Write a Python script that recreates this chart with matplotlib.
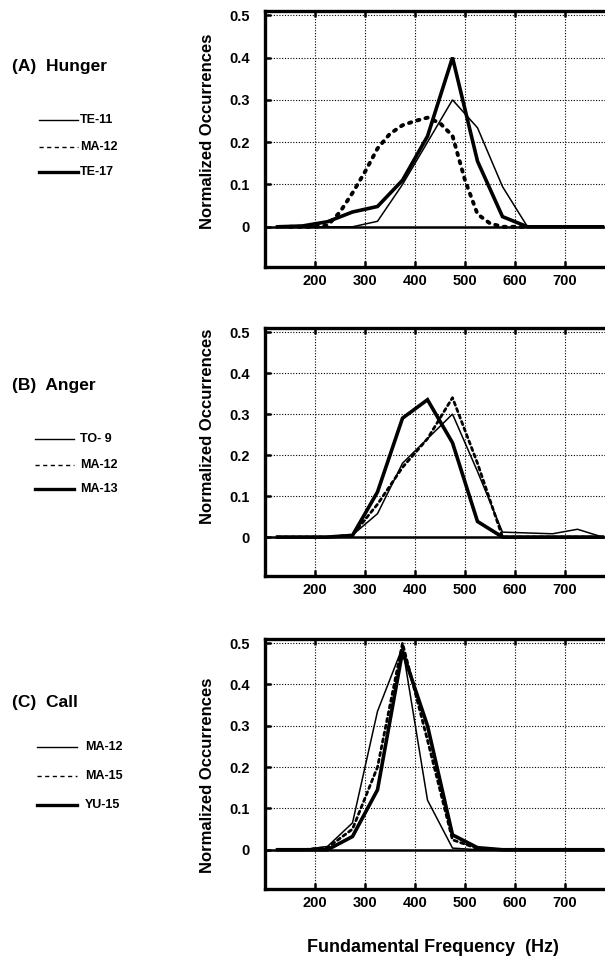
import numpy as np
import matplotlib
matplotlib.use("Agg")
import matplotlib.pyplot as plt
from matplotlib.lines import Line2D

plt.rcParams['font.family'] = ['Liberation Sans', 'DejaVu Sans']
plt.rcParams['font.weight'] = 'bold'

W, H = 605, 959

# bin centres (Hz)
freq = [125, 175, 225, 275, 325, 375, 425, 475, 525, 575, 625, 675, 725, 775]
freq_fine = [150, 175, 200, 225, 250, 275, 300, 325, 350, 375, 400, 425, 450,
             475, 500, 525, 550, 575, 600, 625]

# (A) Hunger
hunger_te11 = [0, 0, 0, 0, 0.013, 0.10, 0.20, 0.30, 0.234, 0.095, 0, 0, 0, 0]
hunger_ma12 = [0, 0, 0, 0.003, 0.035, 0.08, 0.13, 0.185, 0.22, 0.24, 0.25, 0.258,
               0.245, 0.215, 0.11, 0.03, 0.008, 0, 0, 0]
hunger_te17 = [0, 0.002, 0.012, 0.035, 0.048, 0.11, 0.214, 0.40, 0.155, 0.024, 0, 0, 0, 0]

# (B) Anger
anger_to9 = [0, 0, 0, 0.005, 0.057, 0.18, 0.24, 0.30, 0.16, 0.012, 0.01, 0.008, 0.019, 0]
anger_ma12 = [0, 0, 0, 0.005, 0.08, 0.17, 0.24, 0.34, 0.18, 0, 0, 0, 0, 0]
anger_ma13 = [0, 0, 0, 0.004, 0.11, 0.29, 0.335, 0.23, 0.038, 0, 0, 0, 0, 0]

# (C) Call
call_ma12 = [0, 0, 0.008, 0.065, 0.335, 0.49, 0.12, 0.004, 0, 0, 0, 0, 0, 0]
call_ma15 = [0, 0, 0.005, 0.05, 0.2, 0.50, 0.265, 0.024, 0.003, 0, 0, 0, 0, 0]
call_yu15 = [0, 0, 0, 0.032, 0.145, 0.48, 0.30, 0.036, 0.005, 0, 0, 0, 0, 0]

xticks = [200, 300, 400, 500, 600, 700]
yticks = [0, 0.1, 0.2, 0.3, 0.4, 0.5]
ytick_labels = ['0', '0.1', '0.2', '0.3', '0.4', '0.5']

thin = dict(color='black', lw=1.1, solid_joinstyle='miter')
thick = dict(color='black', lw=2.6, solid_joinstyle='miter')
dash_b = dict(color='black', lw=2.0, linestyle=(0, (1.2, 1.3)), dash_capstyle='round')
dash_a = dict(color='black', lw=2.8, linestyle=(0, (0.6, 1.6)), dash_capstyle='round')

fig = plt.figure(figsize=(W / 100, H / 100), dpi=100)


def make_axes(top, bottom):
    ax = fig.add_axes([265 / W, 1 - bottom / H, 350 / W, (bottom - top) / H])
    ax.set_xlim(100, 800)
    ax.set_ylim(-0.095, 0.51)
    ax.set_xticks(xticks)
    ax.set_yticks(yticks)
    ax.set_yticklabels(ytick_labels)
    ax.tick_params(direction='in', length=4, width=1.8, top=True, right=True,
                   labelsize=10.5)
    ax.tick_params(axis='x', pad=5)
    ax.tick_params(axis='y', pad=11)
    for lab in ax.get_xticklabels() + ax.get_yticklabels():
        lab.set_fontweight('bold')
    ax.grid(True, color='black', lw=0.8, linestyle=(0, (1, 1.5)))
    ax.axhline(0, color='black', lw=1.8, zorder=1)
    for s in ax.spines.values():
        s.set_linewidth(2.4)
    return ax


def legend(px_line, px_text, rows, title, title_y):
    fig.text(12 / W, 1 - title_y / H, title, fontsize=12.5, fontweight='bold',
             va='center', ha='left')
    for (py, style, label) in rows:
        fig.add_artist(Line2D([px_line[0] / W, px_line[1] / W], [1 - py / H, 1 - py / H],
                              transform=fig.transFigure, **style))
        fig.text(px_text / W, 1 - py / H, label, fontsize=9, fontweight='bold',
                 va='center', ha='left')


leg_thin = dict(color='black', lw=1.0)
leg_dash = dict(color='black', lw=1.0, linestyle=(0, (3, 2.5)))
leg_thick = dict(color='black', lw=2.4)

# (A)
ax1 = make_axes(11, 267)
ax1.plot(freq, hunger_te11, **thin)
ax1.plot(freq_fine, hunger_ma12, **dash_a)
ax1.plot(freq, hunger_te17, **thick)
legend((39, 78), 80, [(120, leg_thin, 'TE-11'), (147, leg_dash, 'MA-12'),
                      (172, leg_thick, 'TE-17')], '(A)  Hunger', 67)
fig.text(207 / W, 1 - 131 / H, 'Normalized Occurrences', rotation=90, fontsize=12,
         fontweight='bold', ha='center', va='center')

# (B)
ax2 = make_axes(328, 576)
ax2.plot(freq, anger_to9, **thin)
ax2.plot(freq, anger_ma12, **dash_b)
ax2.plot(freq, anger_ma13, **thick)
legend((35, 74), 80, [(439, leg_thin, 'TO- 9'), (465, leg_dash, 'MA-12'),
                      (489, leg_thick, 'MA-13')], '(B)  Anger', 385)
fig.text(207 / W, 1 - 426 / H, 'Normalized Occurrences', rotation=90, fontsize=12,
         fontweight='bold', ha='center', va='center')

# (C)
ax3 = make_axes(639, 889)
ax3.plot(freq, call_ma12, **thin)
ax3.plot(freq, call_ma15, **dash_b)
ax3.plot(freq, call_yu15, **thick)
legend((37, 77), 85, [(747, leg_thin, 'MA-12'), (776, leg_dash, 'MA-15'),
                      (805, leg_thick, 'YU-15')], '(C)  Call', 703)
fig.text(207 / W, 1 - 775 / H, 'Normalized Occurrences', rotation=90, fontsize=12,
         fontweight='bold', ha='center', va='center')

fig.text(433 / W, 1 - 948 / H, 'Fundamental Frequency  (Hz)', fontsize=13,
         fontweight='bold', ha='center', va='center')

fig.savefig('out.png', dpi=100, facecolor='white')
